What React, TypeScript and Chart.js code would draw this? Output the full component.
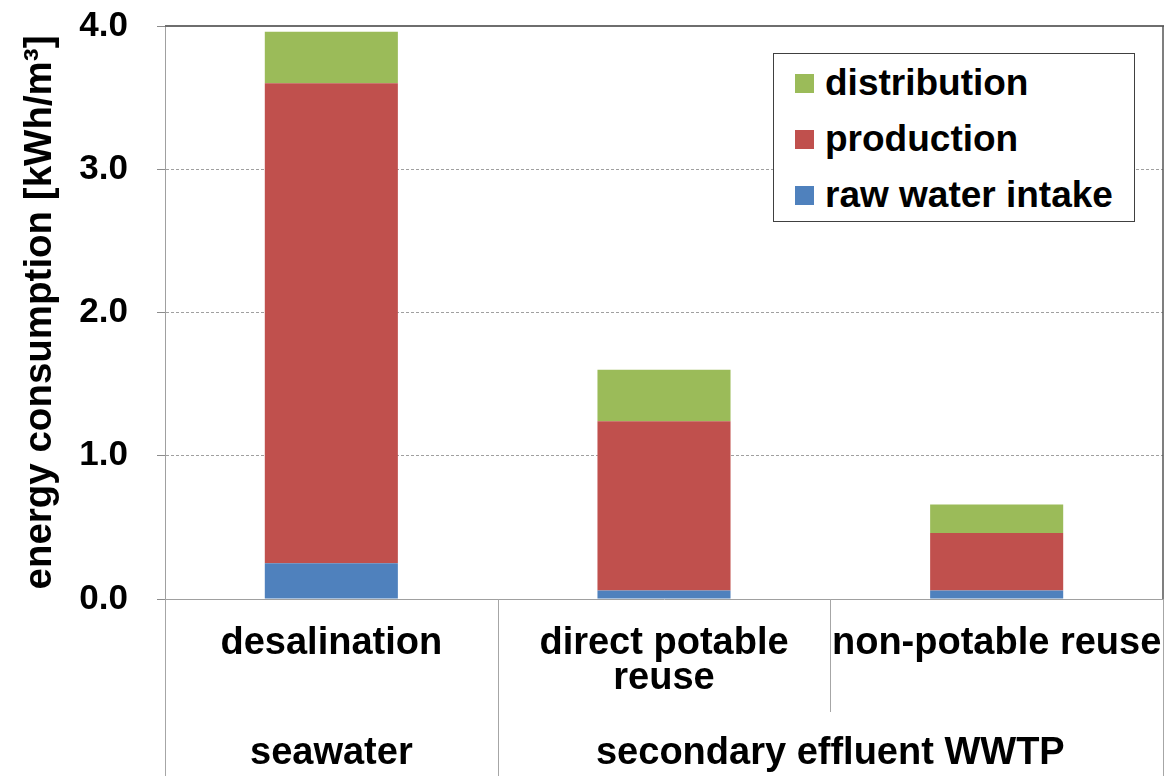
import React, { useEffect, useRef } from "react";
import { Chart, registerables } from "chart.js";

Chart.register(...registerables);

// ---- data ----
const categories: (string | string[])[] = ["desalination", ["direct potable", "reuse"], "non-potable reuse"];
const groupLabels: string[] = ["seawater", "secondary effluent WWTP"];
const groupSpans: number[] = [1, 2];
const rawWaterIntake: number[] = [0.25, 0.06, 0.06];
const production: number[] = [3.35, 1.18, 0.4];
const distribution: number[] = [0.36, 0.36, 0.2];
const yTicks: number[] = [0, 1, 2, 3, 4];
const yTitle = "energy consumption [kWh/m³]";

const seriesNames = ["raw water intake", "production", "distribution"];
const seriesColors = ["#4F81BD", "#C0504D", "#9BBB59"];
const seriesValues = [rawWaterIntake, production, distribution];

const FONT = "'Liberation Sans', Arial, sans-serif";

// group centre positions on the category index scale
const groupCenters: number[] = (() => {
  const out: number[] = [];
  let start = 0;
  groupSpans.forEach((s) => {
    out.push(start + (s - 1) / 2);
    start += s;
  });
  return out;
})();

const framePlugin = {
  id: "frame",
  afterDraw(chart: any) {
    const { ctx, chartArea } = chart;
    const x = chart.scales.x;
    const H = chart.height;
    const { left, right, top, bottom } = chartArea;
    ctx.save();
    // top border
    ctx.strokeStyle = "#6e6e6e";
    ctx.lineWidth = 2;
    ctx.beginPath();
    ctx.moveTo(left, top);
    ctx.lineTo(right + 1, top);
    ctx.stroke();
    // right border
    ctx.lineWidth = 1.5;
    ctx.strokeStyle = "#555";
    ctx.beginPath();
    ctx.moveTo(right, top);
    ctx.lineTo(right, bottom);
    ctx.stroke();
    // separators below axis
    ctx.strokeStyle = "#a6a6a6";
    ctx.lineWidth = 1;
    const line = (px: number, y2: number) => {
      ctx.beginPath();
      ctx.moveTo(Math.round(px) + 0.5, bottom);
      ctx.lineTo(Math.round(px) + 0.5, y2);
      ctx.stroke();
    };
    line(left - 0.5, H);
    line(right - 0.5, H);
    const groupEnds = new Set<number>();
    let acc = 0;
    groupSpans.forEach((s) => {
      acc += s;
      groupEnds.add(acc);
    });
    for (let i = 1; i < categories.length; i++) {
      const px = (x.getPixelForValue(i - 1) + x.getPixelForValue(i)) / 2;
      line(px, groupEnds.has(i) ? H : x.bottom);
    }
    ctx.restore();
  },
};

const noPad = (s: any) => {
  s.paddingTop = 0;
  s.paddingBottom = 0;
  s.paddingLeft = 0;
  s.paddingRight = 0;
};

export default function App() {
  const ref = useRef<HTMLCanvasElement>(null);

  useEffect(() => {
    if (!ref.current) return;
    const chart = new Chart(ref.current, {
      type: "bar",
      data: {
        labels: categories as any,
        datasets: seriesNames.map((n, i) => ({
          label: n,
          data: seriesValues[i],
          backgroundColor: seriesColors[i],
          borderWidth: 0,
          categoryPercentage: 1,
          barPercentage: 0.4,
        })),
      },
      options: {
        animation: false,
        responsive: false,
        devicePixelRatio: 1,
        layout: { padding: { left: 0, right: 2, top: 26, bottom: 0 } },
        plugins: { legend: { display: false }, tooltip: { enabled: false } },
        scales: {
          x: {
            type: "category",
            stacked: true,
            offset: true,
            position: "bottom",
            weight: 0,
            grid: { display: false, drawTicks: false },
            border: { display: true, color: "#a0a0a0", width: 1 },
            ticks: {
              color: "#000",
              font: { family: FONT, size: 38, weight: "bold", lineHeight: 0.93 },
              padding: 27,
              maxRotation: 0,
              minRotation: 0,
              autoSkip: false,
            },
            afterFit: (s: any) => {
              s.height = 113;
              noPad(s);
            },
          },
          x2: {
            type: "linear",
            position: "bottom",
            weight: 1,
            offset: false,
            min: -0.5,
            max: 2.5,
            grid: { display: false, drawTicks: false, offset: false },
            border: { display: false },
            afterBuildTicks: (ax: any) => {
              ax.ticks = groupCenters.map((v) => ({ value: v }));
            },
            ticks: {
              color: "#000",
              font: { family: FONT, size: 38, weight: "bold", lineHeight: 0.93 },
              padding: 24,
              maxRotation: 0,
              minRotation: 0,
              autoSkip: false,
              callback: (v: any) => {
                const idx = groupCenters.indexOf(Number(v));
                return idx >= 0 ? groupLabels[idx] : "";
              },
            },
            afterFit: (s: any) => {
              s.height = 64;
              noPad(s);
            },
          },
          y: {
            stacked: true,
            min: 0,
            max: 4,
            afterBuildTicks: (ax: any) => {
              ax.ticks = yTicks.map((v) => ({ value: v }));
            },
            grid: {
              color: (c: any) => (c.tick && (c.tick.value === 0 || c.tick.value === 4) ? "rgba(0,0,0,0)" : "#a0a0a0"),
              tickColor: "#8c8c8c",
              tickLength: 8,
              tickBorderDash: [],
              lineWidth: 1,
            },
            border: { display: true, color: "#a0a0a0", width: 1, dash: [3, 2] },
            ticks: {
              color: "#000",
              font: { family: FONT, size: 35, weight: "bold" },
              padding: 29,
              callback: (v: any) => Number(v).toFixed(1),
            },
            title: {
              display: true,
              text: yTitle,
              color: "#000",
              font: { family: FONT, size: 38.5, weight: "bold" },
              padding: { top: 17, bottom: 0 },
            },
            afterFit: (s: any) => {
              s.width = 165;
              noPad(s);
            },
          },
        },
      } as any,
      plugins: [framePlugin],
    });
    return () => chart.destroy();
  }, []);

  const legendOrder = [...seriesNames.keys()].reverse();

  return (
    <div style={{ position: "absolute", left: 0, top: 0, width: 1165, height: 776, background: "#fff" }}>
      <canvas ref={ref} width={1165} height={776} style={{ width: 1165, height: 776, display: "block" }} />
      <div
        style={{
          position: "absolute",
          left: 773,
          top: 53,
          width: 362,
          height: 169,
          boxSizing: "border-box",
          border: "1.5px solid #404040",
          background: "#fff",
          paddingTop: 1,
        }}
      >
        {legendOrder.map((i) => (
          <div
            key={seriesNames[i]}
            style={{
              height: 56,
              display: "flex",
              alignItems: "center",
              paddingLeft: 21,
              fontFamily: FONT,
              fontWeight: "bold",
              fontSize: 37,
              color: "#000",
              whiteSpace: "nowrap",
            }}
          >
            <span style={{ display: "inline-block", width: 19, height: 19, background: seriesColors[i], marginRight: 11 }} />
            <span>{seriesNames[i]}</span>
          </div>
        ))}
      </div>
    </div>
  );
}
